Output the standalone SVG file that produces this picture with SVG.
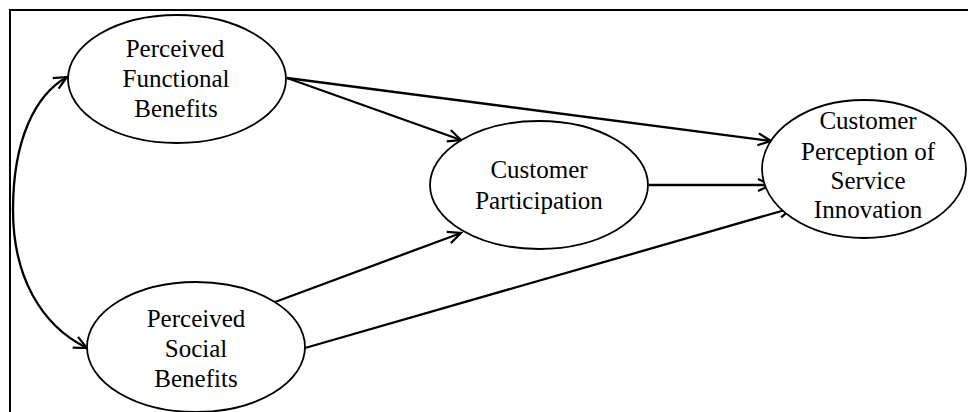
<svg xmlns="http://www.w3.org/2000/svg" width="968" height="412" viewBox="0 0 968 412">
<style>
  .node ellipse { fill: #ffffff; stroke: #000000; stroke-width: 1.8; }
  .node text { font-family: "Liberation Serif", "Times New Roman", serif; font-size: 25px; fill: #000000; text-anchor: middle; }
  .conn path, .conn line { fill: none; stroke: #000000; stroke-width: 2.3; }
  .frame { fill: none; stroke: #000000; stroke-width: 2; }
</style>
<defs>
  <marker id="arrow" markerUnits="userSpaceOnUse" markerWidth="18" markerHeight="16" refX="14" refY="7" orient="auto-start-reverse" viewBox="0 0 18 14">
    <path d="M1,1 L14,7 L1,13" fill="none" stroke="#000000" stroke-width="2.2"/>
  </marker>
</defs>
<rect x="0" y="0" width="968" height="412" fill="#ffffff"/>
<path class="frame" d="M10,412 L10,10 L968,10"/>
<g id="connectors" class="conn">
  <line x1="287" y1="78" x2="461" y2="140" marker-end="url(#arrow)"/>
  <line x1="287" y1="78" x2="771" y2="141" marker-end="url(#arrow)"/>
  <line x1="649" y1="185" x2="771" y2="185" marker-end="url(#arrow)"/>
  <line x1="275" y1="302" x2="461" y2="233" marker-end="url(#arrow)"/>
  <line x1="305" y1="348" x2="792" y2="208" marker-end="url(#arrow)"/>
  <path d="M67,77 C35,95 13,140 13,210 C13,275 40,325 87,348" marker-start="url(#arrow)" marker-end="url(#arrow)"/>
</g>
<g id="node-pfb" class="node">
  <ellipse cx="177" cy="79" rx="109" ry="64"/>
  <text x="175" y="57">Perceived</text>
  <text x="176" y="87">Functional</text>
  <text x="176" y="117">Benefits</text>
</g>
<g id="node-psb" class="node">
  <ellipse cx="196" cy="347" rx="109" ry="65"/>
  <text x="196" y="327">Perceived</text>
  <text x="196" y="357">Social</text>
  <text x="196" y="387">Benefits</text>
</g>
<g id="node-cp" class="node">
  <ellipse cx="539" cy="185" rx="109" ry="64"/>
  <text x="539" y="178">Customer</text>
  <text x="539" y="209">Participation</text>
</g>
<g id="node-cpsi" class="node">
  <ellipse cx="864" cy="169" rx="102" ry="69"/>
  <text x="868" y="129">Customer</text>
  <text x="868" y="160">Perception of</text>
  <text x="868" y="189">Service</text>
  <text x="868" y="218">Innovation</text>
</g>
</svg>
